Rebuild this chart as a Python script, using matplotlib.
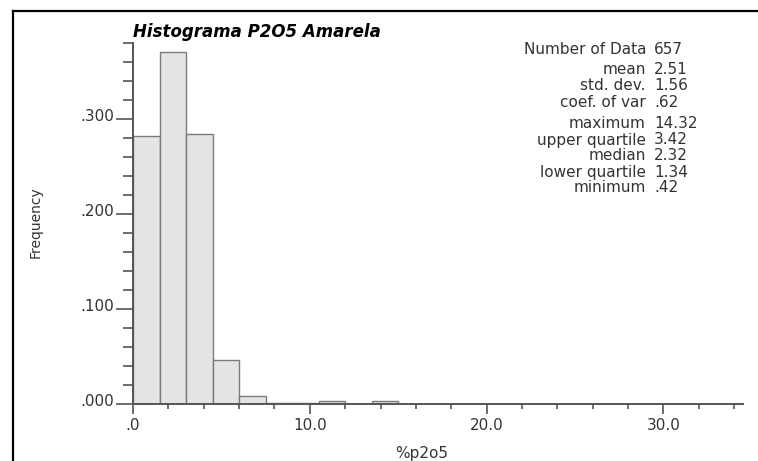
import matplotlib
matplotlib.use("Agg")
import matplotlib.pyplot as plt
import matplotlib.transforms as mtransforms
from matplotlib.lines import Line2D
import numpy as np

# histogram of %p2o5, bins of width 1.5 (relative frequency)
bin_edges = [0.0, 1.5, 3.0, 4.5, 6.0, 7.5, 9.0, 10.5, 12.0, 13.5, 15.0]
freqs = [0.282, 0.370, 0.284, 0.046, 0.008, 0.0015, 0.0015, 0.003, 0.0, 0.003]

stat_names = ["Number of Data", "mean", "std. dev.", "coef. of var",
              "maximum", "upper quartile", "median", "lower quartile", "minimum"]
stat_values = ["657", "2.51", "1.56", ".62", "14.32", "3.42", "2.32", "1.34", ".42"]
stat_rows_px = [49, 70, 86, 102, 124, 140, 156, 172, 188]  # pixel rows of the stats list

xticks = [0, 10, 20, 30]
xtick_labels = [".0", "10.0", "20.0", "30.0"]
yticks = [0.0, 0.1, 0.2, 0.3]
ytick_labels = [".000", ".100", ".200", ".300"]

W, H = 758, 461
plt.rcParams['font.family'] = ['DejaVu Sans']
fig = plt.figure(figsize=(W / 100, H / 100), dpi=100)
ax = fig.add_axes([133 / W, (H - 404) / H, 610 / W, 361 / H])

lefts = np.array(bin_edges[:-1])
widths = np.diff(bin_edges)
ax.bar(lefts, freqs, width=widths, align="edge", color="#e4e4e4",
       edgecolor="#7a7a7a", linewidth=1.0, zorder=2)

ax.set_xlim(0, 34.5)
ax.set_ylim(0, 0.38)
ax.spines["top"].set_visible(False)
ax.spines["right"].set_visible(False)
for s in ("left", "bottom"):
    ax.spines[s].set_color("#555555")
    ax.spines[s].set_linewidth(1.4)
    ax.spines[s].set_zorder(3)

ax.set_xticks(xticks)
ax.set_xticklabels(xtick_labels)
ax.set_xticks(np.arange(2, 35, 2), minor=True)
ax.set_yticks(yticks)
ax.set_yticklabels(ytick_labels)
ax.set_yticks(np.arange(0.02, 0.381, 0.02), minor=True)

ax.tick_params(axis="x", which="major", direction="out", length=7, width=1.2,
               color="#555555", labelsize=11, labelcolor="#333333", pad=3)
ax.tick_params(axis="x", which="minor", direction="out", length=3.5, width=1.2,
               color="#555555")
ax.tick_params(axis="y", which="major", direction="out", length=12, width=1.2,
               color="#555555", labelsize=11, labelcolor="#333333", pad=1.5)
ax.tick_params(axis="y", which="minor", direction="out", length=7, width=1.2,
               color="#555555")

# y tick labels sit a little above their ticks
shift = mtransforms.ScaledTranslation(0, 4 / 100, fig.dpi_scale_trans)
for lab in ax.get_yticklabels():
    lab.set_transform(lab.get_transform() + shift)

# title, axis labels
fig.text(133 / W, 1 - 32 / H, "Histograma P2O5 Amarela", fontsize=12,
         fontweight="bold", fontstyle="italic", ha="left", va="center")
fig.text(36 / W, 1 - 222 / H, "Frequency", fontsize=10, rotation=90,
         ha="center", va="center", color="#333333")
fig.text(422 / W, 1 - 453 / H, "%p2o5", fontsize=11, ha="center",
         va="center", color="#333333")

# statistics block
for name, val, row in zip(stat_names, stat_values, stat_rows_px):
    fig.text(646 / W, 1 - row / H, name, fontsize=11, ha="right",
             va="center", color="#333333")
    fig.text(654 / W, 1 - row / H, val, fontsize=11, ha="left",
             va="center", color="#333333")

# black frame on top and left of the image
fig.add_artist(Line2D([13 / W, 1.0], [1 - 11 / H, 1 - 11 / H],
                      transform=fig.transFigure, color="black", linewidth=1.6))
fig.add_artist(Line2D([13 / W, 13 / W], [0.0, 1 - 11 / H],
                      transform=fig.transFigure, color="black", linewidth=1.6))

fig.savefig("out.png", dpi=100)
